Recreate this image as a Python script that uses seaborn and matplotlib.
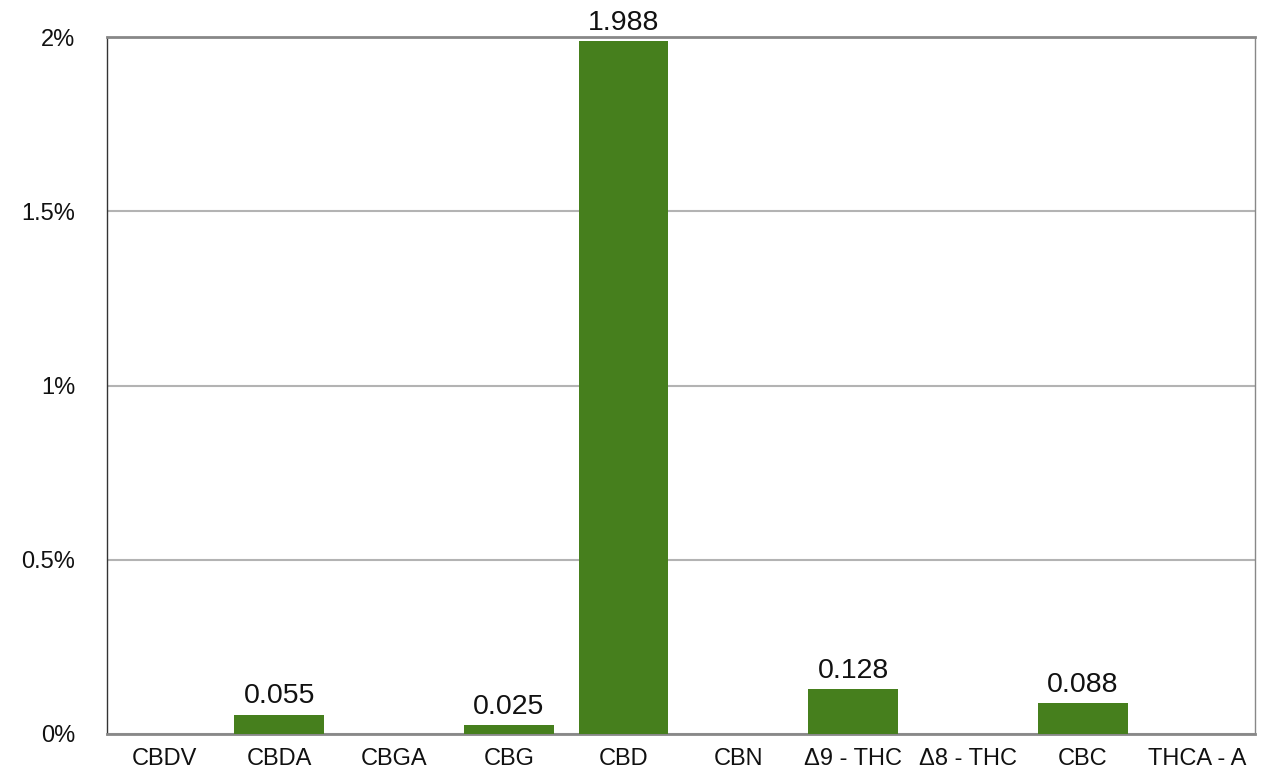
import numpy as np
import pandas as pd
import matplotlib
matplotlib.use("Agg")
import matplotlib.pyplot as plt
import seaborn as sns

compounds = ['CBDV', 'CBDA', 'CBGA', 'CBG', 'CBD', 'CBN', 'Δ9 - THC', 'Δ8 - THC', 'CBC', 'THCA - A']
percent = [0, 0.055, 0, 0.025, 1.988, 0, 0.128, 0, 0.088, 0]
labels = ['', '0.055', '', '0.025', '1.988', '', '0.128', '', '0.088', '']
yticks = [0, 0.5, 1, 1.5, 2]
ytick_labels = ['0%', '0.5%', '1%', '1.5%', '2%']

df = pd.DataFrame({'Compound': compounds, 'Percent': percent})

sns.set_style("white")
plt.rcParams['font.family'] = ['Liberation Sans', 'DejaVu Sans']

fig = plt.figure(figsize=(12.62, 7.73), dpi=100)
ax = fig.add_axes([0.0848, 0.0505, 0.9097, 0.9015])

sns.barplot(x='Compound', y='Percent', data=df, color='#467f1d', saturation=1,
            width=0.78, linewidth=0, ax=ax, zorder=3)

# value labels above the bars
bars = ax.containers[0]
ax.bar_label(bars, labels=labels, padding=4, fontsize=20.5, color='#111111')

ax.set_ylim(0, 2)
ax.set_xlim(-0.5, len(compounds) - 0.5)
ax.set_yticks(yticks)
ax.set_yticklabels(ytick_labels)
ax.yaxis.grid(True, color='#b3b3b3', linewidth=1.5, zorder=0)
ax.set_axisbelow(True)
ax.tick_params(axis='both', length=0, labelsize=17, colors='#111111')
ax.tick_params(axis='y', pad=23)
ax.tick_params(axis='x', pad=10)
ax.set_xlabel('')
ax.set_ylabel('')

ax.spines['left'].set_color('#333333')
ax.spines['left'].set_linewidth(1)
ax.spines['bottom'].set_color('#888888')
ax.spines['bottom'].set_linewidth(2)
ax.spines['top'].set_color('#888888')
ax.spines['top'].set_linewidth(2)
ax.spines['right'].set_color('#888888')
ax.spines['right'].set_linewidth(1)

fig.savefig('out.png', dpi=100)
